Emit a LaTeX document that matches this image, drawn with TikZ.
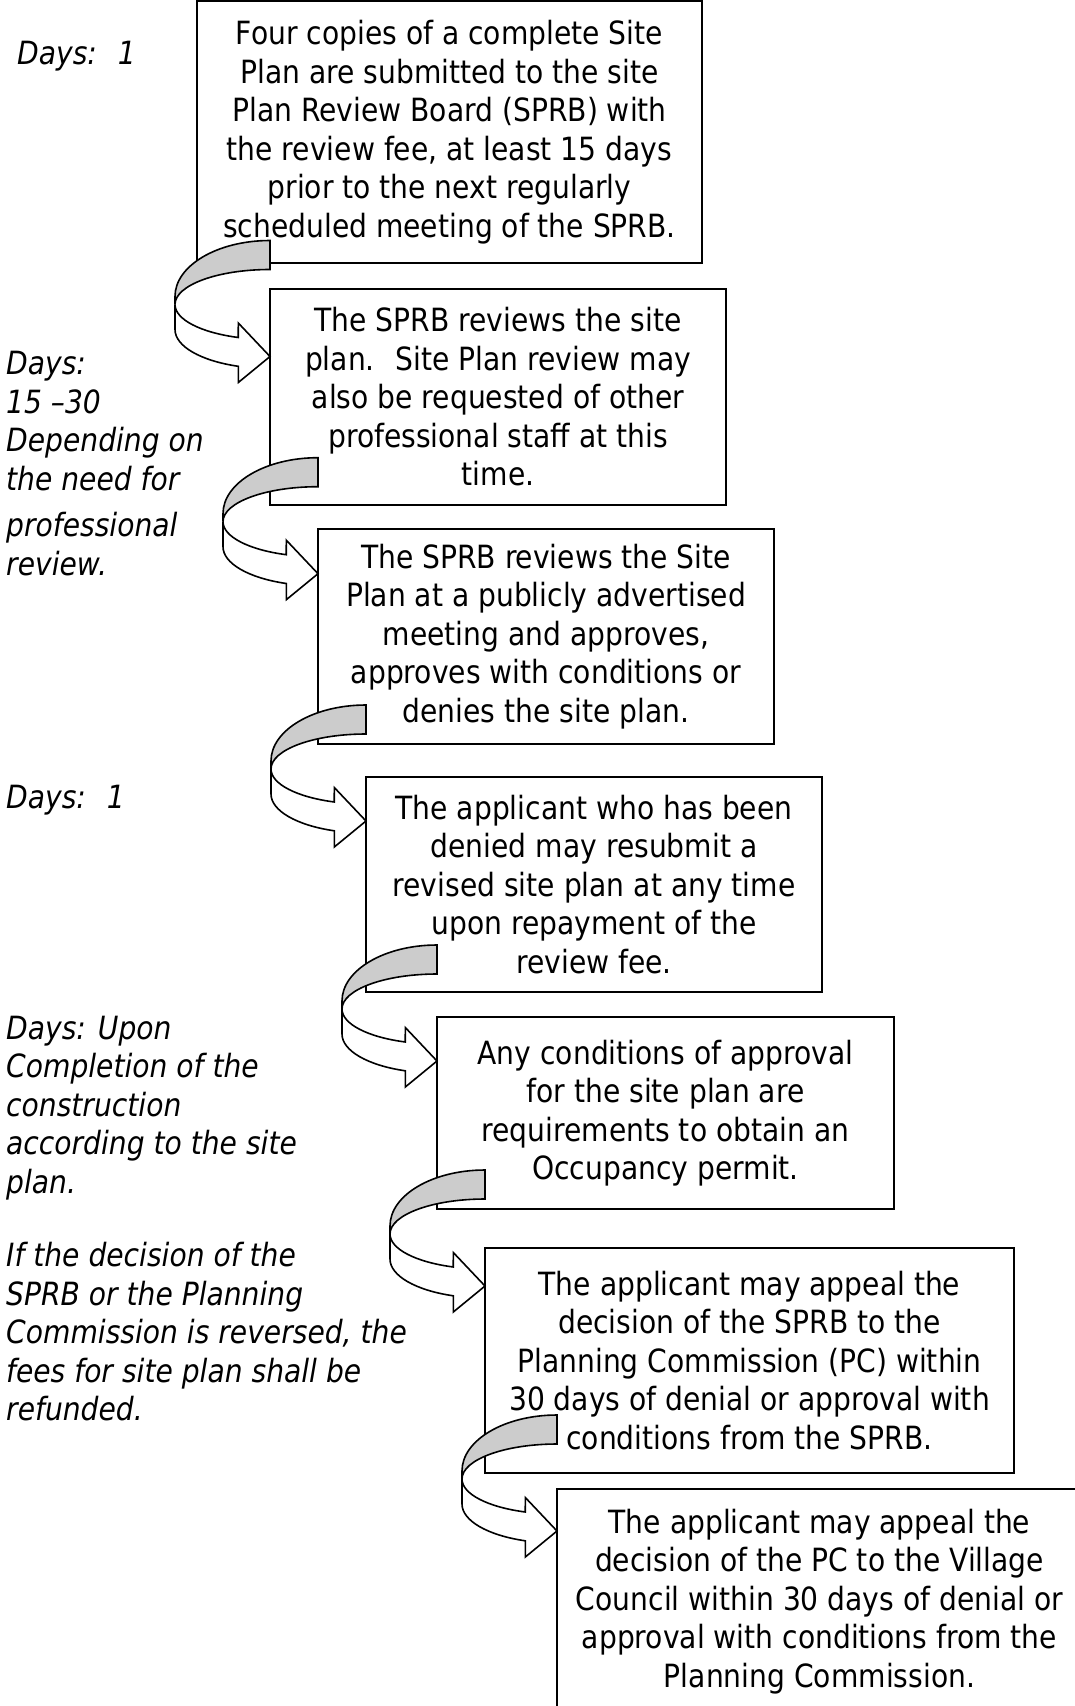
\documentclass[tikz,border=0pt]{standalone}
\usepackage{fontspec}
\setmainfont[FakeStretch=0.88]{DejaVu Sans}
\usetikzlibrary{calc}
\definecolor{bandgray}{RGB}{204,204,204}

\tikzset{
  stepbox/.style={draw, line width=2pt, align=center, inner sep=0pt, outer sep=0pt,
    fill=white, font=\fontsize{32}{38.5}\selectfont},
  daynote/.style={anchor=base west, align=left, inner sep=0pt,
    font=\fontsize{32}{38.5}\selectfont\itshape},
  band/.style={draw, line width=1.6pt, line join=miter},
  turnarrow/.pic={
    \path[band, fill=bandgray] (0,116)
      arc[start angle=90, end angle=180, x radius=95, y radius=56]
      -- (-95,52) arc[start angle=180, end angle=90, x radius=95, y radius=35] -- cycle;
    \path[band, fill=white] (-95,52)
      arc[start angle=180, end angle=250.5, x radius=95, y radius=35]
      -- (-31.7,33.5) -- (0,0) -- (-31.7,-26) -- (-31.7,-9.8)
      arc[start angle=250.5, end angle=180, x radius=95, y radius=39] -- cycle;
  }
}

\begin{document}
\begin{tikzpicture}[x=1pt, y=1pt]
  \path[use as bounding box, fill=white] (0,0) rectangle (1075,-1706);

  % the steps
  \node[stepbox, minimum width=505pt, minimum height=262.5pt] (b1) at (449.5,-132.2)
    {Four copies of a complete Site\\Plan are submitted to the site\\Plan Review Board (SPRB) with\\the review fee, at least 15 days\\prior to the next regularly\\scheduled meeting of the SPRB.};
  \node[stepbox, minimum width=456pt, minimum height=216pt] (b2) at (498,-397)
    {The SPRB reviews the site\\plan.~ Site Plan review may\\also be requested of other\\professional staff at this\\time.};
  \node[stepbox, minimum width=456pt, minimum height=215pt] (b3) at (546,-636.5)
    {The SPRB reviews the Site\\Plan at a publicly advertised\\meeting and approves,\\approves with conditions or\\denies the site plan.};
  \node[stepbox, minimum width=456pt, minimum height=215pt] (b4) at (594,-884.5)
    {The applicant who has been\\denied may resubmit a\\revised site plan at any time\\upon repayment of the\\review fee.};
  \node[stepbox, minimum width=457pt, minimum height=192pt] (b5) at (665.5,-1113)
    {Any conditions of approval\\for the site plan are\\requirements to obtain an\\Occupancy permit.};
  \node[stepbox, minimum width=529pt, minimum height=225pt] (b6) at (749.5,-1360.5)
    {The applicant may appeal the\\decision of the SPRB to the\\Planning Commission (PC) within\\30 days of denial or approval with\\conditions from the SPRB.};
  \node[stepbox, minimum width=525pt, minimum height=225pt] (b7) at (819.5,-1601.5)
    {The applicant may appeal the\\decision of the PC to the Village\\Council within 30 days of denial or\\approval with conditions from the\\Planning Commission.};

  % curved arrows into each next step
  \foreach \nxt/\dy in {b2/67.5, b3/44.7, b4/44, b5/44, b6/38, b7/42}
    \pic at ($(\nxt.north west)+(0,-\dy)$) {turnarrow};

  % time notes (base = last line)
  \node[daynote] (d1) at (17,-64) {Days:~ 1};
  \node[daynote] (d2) at (6,-575)
    {Days:\\15 --30\\Depending on\\the need for\\[8pt]professional\\review.};
  \node[daynote] (d3) at (6,-808) {Days:~ 1};
  \node[daynote] (d4) at (6,-1193)
    {Days: Upon\\Completion of the\\construction\\according to the site\\plan.};
  \node[daynote] (d5) at (6,-1420.5)
    {If the decision of the\\SPRB or the Planning\\Commission is reversed, the\\fees for site plan shall be\\refunded.};
\end{tikzpicture}
\end{document}
